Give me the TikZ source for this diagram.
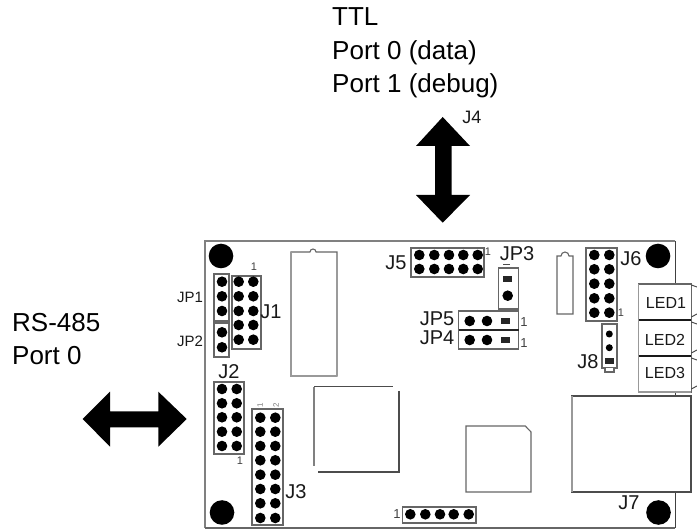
\documentclass[tikz,border=0pt]{standalone}
\usepackage{fontspec}
\setmainfont{Liberation Sans}
\newcommand{\fs}[1]{\fontsize{#1}{#1}\selectfont}
\tikzset{
  x=1pt,y=-1pt,
  big/.style={inner sep=0pt,anchor=base west,font=\fs{26}},
  lab/.style={inner sep=0pt,font=\fs{20},text=black!90},
  small/.style={inner sep=0pt,font=\fs{15},text=black!90},
  tiny/.style={inner sep=0pt,font=\fs{11},text=black!75},
  part/.style={draw=black!60,line width=1.1pt,fill=white},
  solid arrow/.style={fill=black,draw=none},
  pin/.style={fill=black,draw=none},
}
\newcommand{\pinat}[2]{\fill[pin] (#1,#2) circle[radius=5.3];}
\newcommand{\sqpin}[2]{\fill[black!85] (#1-4.5,#2-3) rectangle (#1+4.5,#2+3);}
\begin{document}
\begin{tikzpicture}
\useasboundingbox (0,0) rectangle (697,529);
% board
\draw[draw=black!50,line width=1.8pt] (205,528) -- (205,241) -- (675,241);
\draw[draw=black!75,line width=1pt] (675,241) -- (675,285);
\draw[draw=black!75,line width=1pt] (675,392) -- (675,396);
\draw[draw=black!75,line width=1pt] (675,492) -- (675,528);
\draw[draw=black!60,line width=1.2pt] (205,528) -- (675,528);
% holes
\foreach \x/\y in {221/256,222/512.5,658/256,658.5/512.5}{\fill (\x,\y) circle[radius=12.3];}
% big arrows
\fill[solid arrow] (442.7,117) -- (470,146) -- (451.5,146) -- (451.5,195) -- (470,195) -- (442.7,222.7) -- (416,195) -- (435,195) -- (435,146) -- (416,146) -- cycle;
\fill[solid arrow] (82.7,419) -- (110,391.7) -- (110,411.5) -- (158.3,411.5) -- (158.3,391.7) -- (186.7,419) -- (158.3,446.7) -- (158.3,427.3) -- (110,427.3) -- (110,446.7) -- cycle;
% headers
\draw[part] (232,276) rectangle (261,349);
\foreach \y in {281.7,296.3,311,325,339.7}{\pinat{238.7}{\y}\pinat{253.3}{\y}}
\draw[part] (214,274) rectangle (229,321);
\foreach \y in {281.7,296.3,311}{\pinat{222}{\y}}
\draw[part] (214,323) rectangle (229,357);
\draw[part] (217,357) -- (226,357);
\foreach \y in {332.3,347.3}{\pinat{222}{\y}}
% DIP
\draw[part] (291,252) -- (310,252) arc[start angle=180,end angle=360,radius=3] -- (337,252) -- (337,376) -- (291,376) -- cycle;
\draw[draw=black!40,line width=1.4pt] (291,252) -- (291,376) -- (337,376);
% J5
\draw[part] (411,248) rectangle (484,277);
\foreach \x in {419.3,434.3,449,463.3,477.7}{\pinat{\x}{255}\pinat{\x}{269}}
% JP3 JP5 JP4
\draw[part] (498.7,268) rectangle (518.7,309);
\sqpin{507.7}{279}\pinat{507.7}{295.7}
\draw[draw=black!70,line width=1pt] (503,265) -- (510,265);
\draw[part] (458.7,311) rectangle (518.7,330);
\draw[part] (458.7,330) rectangle (518.7,349);
\draw[black!85,line width=1.1pt] (458.7,330) -- (518.7,330);
\pinat{469.7}{321}\pinat{487}{321}\sqpin{505.3}{321}
\pinat{469.7}{340}\pinat{487}{340}\sqpin{505.3}{340}
% small DIP
\draw[part] (557,256) -- (561,256) arc[start angle=180,end angle=360,radius=4] -- (573,256) -- (573,314) -- (557,314) -- cycle;
% J6
\draw[part] (586,248) rectangle (617,321);
\foreach \y in {255,269.3,283.7,298.3,312.7}{\pinat{594.3}{\y}\pinat{609.3}{\y}}
% J8
\draw[part] (602,324) rectangle (617,368);
\draw[part] (605,368) -- (605,372) -- (614,372) -- (614,368);
\fill (609.3,334) circle[radius=3.5];
\fill (609.3,347.7) circle[radius=3.5];
\sqpin{609.3}{360.7}
% LEDs
\draw[draw=black!60,line width=1.2pt,fill=white] (638.7,284) rectangle (691.3,392);
\draw[draw=black!40,line width=1.5pt] (638.7,284) -- (638.7,392) -- (691.3,392);
\draw[draw=black!90,line width=1.3pt] (638.7,320) -- (691.3,320);
\draw[draw=black!90,line width=1.3pt] (638.7,356) -- (691.3,356);
\draw[draw=black!70,line width=1pt] (691.3,285) -- (697,287);
\draw[draw=black!70,line width=1pt] (691.3,317) -- (697,314);
\draw[draw=black!70,line width=1pt] (691.3,322) -- (697,324);
\draw[draw=black!70,line width=1pt] (691.3,353) -- (697,350);
\draw[draw=black!70,line width=1pt] (691.3,358) -- (697,360);
\draw[draw=black!70,line width=1pt] (691.3,389) -- (697,386);
% QFP
\draw[draw=black!70,line width=1pt] (314,387) -- (393,387);
\draw[draw=black!70,line width=1.2pt] (399,391) -- (399,472) -- (318,472);
\draw[draw=black!50,line width=1.5pt] (314,387) -- (314,466);
% J2, J3
\draw[part] (214,382) rectangle (244,454);
\foreach \y in {389,403.3,417.3,431.7,446}{\pinat{222}{\y}\pinat{236.7}{\y}}
\draw[part] (252,409) rectangle (283,525);
\foreach \y in {417.7,431.7,446,460.3,474.7,489,503.3,518}{\pinat{260.3}{\y}\pinat{275.3}{\y}}
% bottom header
\draw[part] (402.7,507) rectangle (476,523);
\foreach \x in {410.3,425.3,440,453.7,468.7}{\pinat{\x}{514.3}}
% chip
\draw[part] (466,426) -- (525.3,426) -- (531,432) -- (531,492) -- (466,492) -- cycle;
% J7
\draw[part,draw=black!70] (572,396) rectangle (691,492);
\draw[draw=black!40,line width=1.5pt] (572,396) -- (572,492);
% texts
\node[big] (t1) at (332,26) {TTL};
\node[big] (t2) at (332,60) {Port 0 (data)};
\node[big] (t3) at (332,93) {Port 1 (debug)};
\node[big] (t4) at (12,332) {RS-485};
\node[big] (t5) at (12,365) {Port 0};
\node[small,font=\fs{18}] (j4) at (472,117) {J4};
\node[lab] (j1) at (271,312) {J1};
\node[lab] (j2) at (229,372) {J2};
\node[lab] (j3) at (296,492) {J3};
\node[lab] (j5) at (396,263) {J5};
\node[lab] (j6) at (631,259) {J6};
\node[lab] (j7) at (629,503) {J7};
\node[lab] (j8) at (588,362) {J8};
\node[lab] (jp3) at (517,254) {JP3};
\node[lab] (jp5) at (437,319) {JP5};
\node[lab] (jp4) at (437,338) {JP4};
\node[small] (jp1) at (190,297) {JP1};
\node[small] (jp2) at (190,341) {JP2};
\node[small,font=\fs{16}] (l1) at (666,303) {LED1};
\node[small,font=\fs{16}] (l2) at (665,340) {LED2};
\node[small,font=\fs{16}] (l3) at (665,373) {LED3};
\node[tiny] (o1) at (254,267) {1};
\node[tiny] (o2) at (240,461) {1};
\node[tiny] (o3) at (488,252) {1};
\node[tiny,font=\fs{13}] (o4) at (524,322) {1};
\node[tiny,font=\fs{13}] (o5) at (524,343) {1};
\node[tiny] (o6) at (621,313) {1};
\node[tiny,font=\fs{13}] (o7) at (397,514) {1};
\node[tiny,rotate=90,font=\fs{8},text=black!50] (o8) at (260,405) {1};
\node[tiny,rotate=90,font=\fs{8},text=black!50] (o9) at (276,405) {2};
\end{tikzpicture}
\end{document}
